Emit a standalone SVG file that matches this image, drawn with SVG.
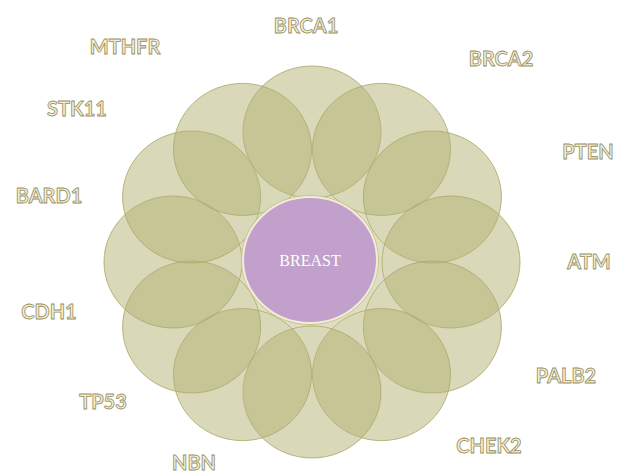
<svg xmlns="http://www.w3.org/2000/svg" width="619" height="473" viewBox="0 0 619 473">
<style>
.petal{fill:#b3b174;fill-opacity:0.5;stroke:#aeaa6c;stroke-width:1;stroke-opacity:0.85}
.lbl{font-family:Lato,"Open Sans","Liberation Sans",sans-serif;font-size:20px;font-weight:bold;fill:#f3eed6;stroke:#978e5e;stroke-width:0.8;text-anchor:middle}
.center-txt{font-family:"Liberation Serif","DejaVu Serif",serif;font-size:16px;fill:#ffffff;text-anchor:middle}
</style>
<defs>
<mask id="gapmask" maskUnits="userSpaceOnUse" x="0" y="0" width="619" height="473">
<rect width="619" height="473" fill="#ffffff"/>
<g fill="#000000">
<ellipse cx="312" cy="132" rx="69" ry="66"/>
<ellipse cx="381.5" cy="149.4" rx="69" ry="66"/>
<ellipse cx="432.4" cy="197" rx="69" ry="66"/>
<ellipse cx="451" cy="262" rx="69" ry="66"/>
<ellipse cx="432.4" cy="327" rx="69" ry="66"/>
<ellipse cx="381.5" cy="374.6" rx="69" ry="66"/>
<ellipse cx="312" cy="392" rx="69" ry="66"/>
<ellipse cx="242.5" cy="374.6" rx="69" ry="66"/>
<ellipse cx="191.6" cy="327" rx="69" ry="66"/>
<ellipse cx="173" cy="262" rx="69" ry="66"/>
<ellipse cx="191.6" cy="197" rx="69" ry="66"/>
<ellipse cx="242.5" cy="149.4" rx="69" ry="66"/>
</g>
</mask>
</defs>
<rect width="619" height="473" fill="#ffffff"/>
<ellipse id="petal-base" cx="311" cy="262" rx="95" ry="90" fill="#b3b174" fill-opacity="0.42" mask="url(#gapmask)"/>
<g id="petals">
<ellipse id="petal-1" class="petal" cx="312" cy="132" rx="69" ry="66"/>
<ellipse id="petal-2" class="petal" cx="381.5" cy="149.4" rx="69" ry="66"/>
<ellipse id="petal-3" class="petal" cx="432.4" cy="197" rx="69" ry="66"/>
<ellipse id="petal-4" class="petal" cx="451" cy="262" rx="69" ry="66"/>
<ellipse id="petal-5" class="petal" cx="432.4" cy="327" rx="69" ry="66"/>
<ellipse id="petal-6" class="petal" cx="381.5" cy="374.6" rx="69" ry="66"/>
<ellipse id="petal-7" class="petal" cx="312" cy="392" rx="69" ry="66"/>
<ellipse id="petal-8" class="petal" cx="242.5" cy="374.6" rx="69" ry="66"/>
<ellipse id="petal-9" class="petal" cx="191.6" cy="327" rx="69" ry="66"/>
<ellipse id="petal-10" class="petal" cx="173" cy="262" rx="69" ry="66"/>
<ellipse id="petal-11" class="petal" cx="191.6" cy="197" rx="69" ry="66"/>
<ellipse id="petal-12" class="petal" cx="242.5" cy="149.4" rx="69" ry="66"/>
</g>
<g id="breast">
<ellipse cx="310" cy="260" rx="68.5" ry="64.5" fill="none" stroke="#c9c08a" stroke-width="1"/>
<ellipse cx="310" cy="260" rx="67" ry="63" fill="#c1a0cc" stroke="#f1ecd6" stroke-width="2"/>
<text class="center-txt" x="310" y="266">BREAST</text>
</g>
<g id="label-brca1"><text class="lbl" x="306" y="33">BRCA1</text></g>
<g id="label-brca2"><text class="lbl" x="501" y="66">BRCA2</text></g>
<g id="label-pten"><text class="lbl" x="588" y="159">PTEN</text></g>
<g id="label-atm"><text class="lbl" x="589" y="269">ATM</text></g>
<g id="label-palb2"><text class="lbl" x="566" y="383">PALB2</text></g>
<g id="label-chek2"><text class="lbl" x="489" y="453">CHEK2</text></g>
<g id="label-nbn"><text class="lbl" x="194" y="470">NBN</text></g>
<g id="label-tp53"><text class="lbl" x="103" y="409">TP53</text></g>
<g id="label-cdh1"><text class="lbl" x="49" y="319">CDH1</text></g>
<g id="label-bard1"><text class="lbl" x="49" y="203">BARD1</text></g>
<g id="label-stk11"><text class="lbl" x="77" y="116">STK11</text></g>
<g id="label-mthfr"><text class="lbl" x="125" y="54">MTHFR</text></g>
</svg>
